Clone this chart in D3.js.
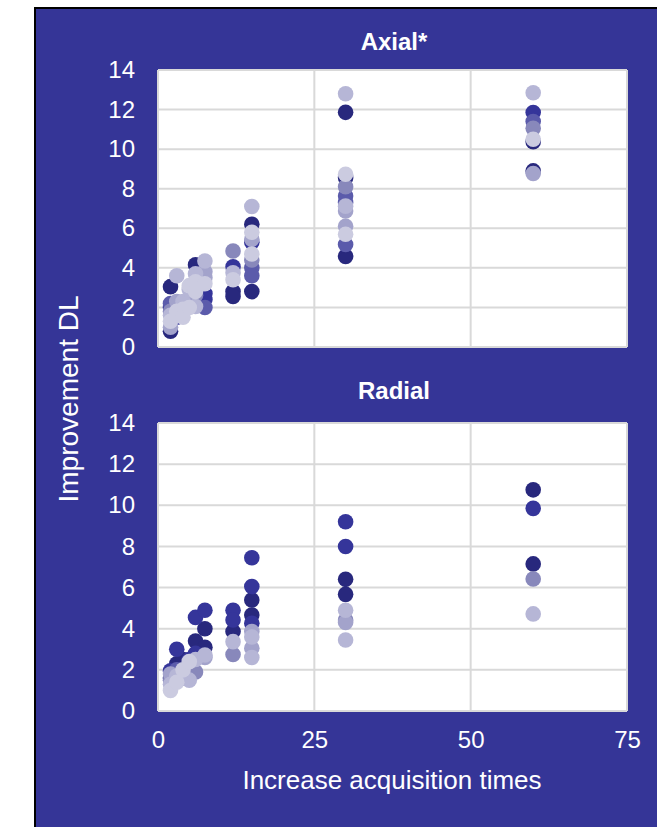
<!DOCTYPE html>
<html>
<head>
<meta charset="utf-8">
<script src="https://cdn.jsdelivr.net/npm/d3@7"></script>
<style>
  html, body { margin: 0; padding: 0; background: #ffffff; }
  svg { display: block; }
  text { font-family: "Liberation Sans", Arial, sans-serif; fill: #ffffff; }
</style>
</head>
<body>
<svg id="chart" width="657" height="827"></svg>
<script>
// ---------- data ----------
const seriesColors = ["#28287d", "#35359a", "#5b5bab", "#8888bb", "#a3a3cb", "#b6b6d6", "#cbcbe0"];
const panelTitles = ["Axial*", "Radial"];
const yTicks = [0, 2, 4, 6, 8, 10, 12, 14];
const xTicks = [0, 25, 50, 75];
const xLabel = "Increase acquisition times";
const yLabel = "Improvement DL";

// Axial panel, one array per shade: [acquisition time increase, improvement]
const axial1 = [[2,3.05],[2,0.8],[6,4.15],[12,2.8],[12,2.55],[15,2.8],[15,6.2],[30,11.86],[30,8.56],[30,4.58],[60,10.37],[60,8.9]];
const axial2 = [[2,2.0],[3,1.5],[7.5,2.7],[7.5,2.4],[12,4.05],[15,5.3],[60,11.85]];
const axial3 = [[2,2.2],[7.5,2.0],[15,4.0],[15,3.6],[30,7.63],[30,7.3],[30,5.18],[60,11.4]];
const axial4 = [[2,1.8],[6,2.6],[12,4.85],[15,4.4],[30,8.1],[60,11.05]];
const axial5 = [[2,1.0],[3,2.3],[5,2.4],[7.5,3.8],[7.5,3.5],[15,5.45],[30,6.87],[30,6.1],[60,8.77]];
const axial6 = [[2,1.6],[3,3.6],[4,2.3],[5,2.9],[6,3.7],[6,2.05],[7.5,4.35],[12,3.75],[15,7.1],[30,12.8],[30,7.12],[60,12.85]];
const axial7 = [[2,1.3],[3,1.8],[4,1.9],[4,1.5],[5,3.1],[5,2.0],[6,3.3],[6,2.8],[7.5,3.2],[12,3.4],[15,5.8],[15,4.7],[30,8.73],[30,5.7],[60,10.5]];

// Radial panel
const radial1 = [[2,1.6],[3,2.3],[4,2.5],[6,3.4],[7.5,4.0],[7.5,3.1],[12,3.86],[15,5.4],[15,4.67],[30,6.4],[30,5.67],[60,10.75],[60,7.15]];
const radial2 = [[2,1.95],[3,3.0],[5,2.5],[6,4.55],[6,2.8],[7.5,4.9],[12,4.9],[12,4.42],[15,7.45],[15,6.05],[15,4.26],[30,9.2],[30,8.0],[60,9.85]];
const radial3 = [[3,2.0]];
const radial4 = [[2,1.5],[4,1.6],[5,2.2],[6,1.9],[12,2.75],[30,4.42],[60,6.42]];
const radial5 = [[2,1.8],[4,1.8],[7.5,2.6],[15,3.86],[15,3.05],[30,4.3]];
const radial6 = [[2,1.3],[3,1.7],[5,1.5],[6,2.5],[7.5,2.72],[12,3.37],[15,3.6],[15,2.6],[30,4.9],[30,3.45],[60,4.72]];
const radial7 = [[2,1.0],[3,1.4],[4,2.0],[5,2.4]];

const axialSeries = [axial1, axial2, axial3, axial4, axial5, axial6, axial7];
const radialSeries = [radial1, radial2, radial3, radial4, radial5, radial6, radial7];

// ---------- layout ----------
const svg = d3.select("#chart");
svg.append("rect").attr("x", 35).attr("y", 8).attr("width", 640).attr("height", 840)
  .attr("fill", "#353597").attr("stroke", "#000").attr("stroke-width", 2);

const plotLeft = 158, plotRight = 627;
const x = d3.scaleLinear().domain([0, 75]).range([plotLeft, plotRight]);
const panels = [
  { title: panelTitles[0], series: axialSeries, top: 70, bottom: 347, titleY: 50 },
  { title: panelTitles[1], series: radialSeries, top: 423, bottom: 711, titleY: 399 }
];

panels.forEach((p, pi) => {
  const y = d3.scaleLinear().domain([0, 14]).range([p.bottom, p.top]);
  const g = svg.append("g");
  g.append("rect").attr("x", plotLeft).attr("y", p.top)
    .attr("width", plotRight - plotLeft).attr("height", p.bottom - p.top)
    .attr("fill", "#ffffff");
  g.selectAll(".hg").data(yTicks).join("line")
    .attr("x1", plotLeft).attr("x2", plotRight)
    .attr("y1", d => y(d)).attr("y2", d => y(d))
    .attr("stroke", "#d9d9d9").attr("stroke-width", 2);
  g.selectAll(".vg").data(xTicks).join("line")
    .attr("x1", d => x(d)).attr("x2", d => x(d))
    .attr("y1", p.top).attr("y2", p.bottom)
    .attr("stroke", "#d9d9d9").attr("stroke-width", 2);
  const yAxis = d3.axisLeft(y).tickValues(yTicks).tickSize(0).tickPadding(23).tickFormat(d3.format("d"));
  const ya = g.append("g").attr("transform", `translate(${plotLeft},0)`).call(yAxis);
  ya.select(".domain").remove();
  ya.selectAll("text").attr("font-size", 24).attr("fill", "#fff")
    .attr("font-family", '"Liberation Sans", Arial, sans-serif');
  g.append("text").attr("x", 394).attr("y", p.titleY).attr("text-anchor", "middle")
    .attr("font-size", 24).attr("font-weight", "bold").text(p.title);
  p.series.forEach((pts, si) => {
    g.append("g").selectAll("circle").data(pts).join("circle")
      .attr("cx", d => x(d[0])).attr("cy", d => y(d[1])).attr("r", 7.8)
      .attr("fill", seriesColors[si]);
  });
  if (pi === 1) {
    const xAxis = d3.axisBottom(x).tickValues(xTicks).tickSize(0).tickPadding(20).tickFormat(d3.format("d"));
    const xa = g.append("g").attr("transform", `translate(0,${p.bottom})`).call(xAxis);
    xa.select(".domain").remove();
    xa.selectAll("text").attr("font-size", 24).attr("fill", "#fff")
      .attr("font-family", '"Liberation Sans", Arial, sans-serif');
  }
});

svg.append("text").attr("x", 392).attr("y", 789).attr("text-anchor", "middle")
  .attr("font-size", 26).text(xLabel);
svg.append("text").attr("transform", "translate(78,399) rotate(-90)")
  .attr("text-anchor", "middle").attr("font-size", 28).text(yLabel);
</script>
</body>
</html>
